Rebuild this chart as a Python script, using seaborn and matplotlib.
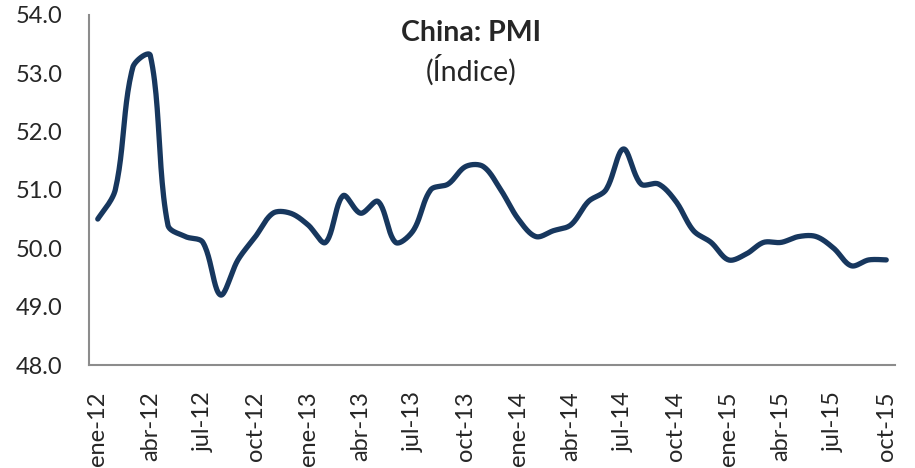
import numpy as np
import pandas as pd
import matplotlib
matplotlib.use("Agg")
import matplotlib.pyplot as plt
import seaborn as sns

months_es = ["ene", "feb", "mar", "abr", "may", "jun",
             "jul", "ago", "sep", "oct", "nov", "dic"]
years = ["12", "13", "14", "15"]

pmi_2012 = [50.5, 51.0, 53.1, 53.3, 50.4, 50.2, 50.1, 49.2, 49.8, 50.2, 50.6, 50.6]
pmi_2013 = [50.4, 50.1, 50.9, 50.6, 50.8, 50.1, 50.3, 51.0, 51.1, 51.4, 51.4, 51.0]
pmi_2014 = [50.5, 50.2, 50.3, 50.4, 50.8, 51.0, 51.7, 51.1, 51.1, 50.8, 50.3, 50.1]
pmi_2015 = [49.8, 49.9, 50.1, 50.1, 50.2, 50.2, 50.0, 49.7, 49.8, 49.8]

pmi = pmi_2012 + pmi_2013 + pmi_2014 + pmi_2015
labels = [f"{m}-{y}" for y in years for m in months_es][:len(pmi)]

df = pd.DataFrame({"idx": np.arange(len(pmi)), "pmi": pmi, "mes": labels})

# pixel scale of the plot area, used to shape the smoothed line like Excel
PX_X = 17.53
PX_Y = 58.4


def smooth(x, y, n=24):
    # Excel-style smoothed line: Bezier segments, handles scaled by segment length
    sx, sy = x * PX_X, y * PX_Y
    m = len(x)
    d = np.hypot(np.diff(sx), np.diff(sy))
    tx = np.zeros(m)
    ty = np.zeros(m)
    for i in range(m):
        a = max(i - 1, 0)
        b = min(i + 1, m - 1)
        tx[i] = sx[b] - sx[a]
        ty[i] = sy[b] - sy[a]
    t = np.linspace(0, 1, n, endpoint=False)[:, None]
    pts = []
    for i in range(m - 1):
        d_prev = d[i - 1] if i > 0 else d[i]
        d_next = d[i + 1] if i < m - 2 else d[i]
        p0 = np.array([sx[i], sy[i]])
        p3 = np.array([sx[i + 1], sy[i + 1]])
        p1 = p0 + np.array([tx[i], ty[i]]) * d[i] / (d_prev + d[i]) / 3
        p2 = p3 - np.array([tx[i + 1], ty[i + 1]]) * d[i] / (d[i] + d_next) / 3
        seg = ((1 - t) ** 3 * p0 + 3 * (1 - t) ** 2 * t * p1
               + 3 * (1 - t) * t ** 2 * p2 + t ** 3 * p3)
        pts.append(seg)
    pts.append(np.array([[sx[-1], sy[-1]]]))
    pts = np.vstack(pts)
    return pd.DataFrame({"x": pts[:, 0] / PX_X, "y": pts[:, 1] / PX_Y})


curve = smooth(df["idx"].to_numpy(float), df["pmi"].to_numpy(float))

sns.set_style("white")
plt.rcParams["font.family"] = ["Lato", "DejaVu Sans"]

fig = plt.figure(figsize=(9.15, 4.68), dpi=100)
ax = fig.add_axes([89 / 915, 1 - 365 / 468, (895 - 89) / 915, (365 - 14.7) / 468])

sns.lineplot(data=curve, x="x", y="y", sort=False, color="#17375E",
             linewidth=3.8, ax=ax, solid_capstyle="round")

ax.set_xlim(-0.5, len(pmi) - 0.5)
ax.set_ylim(48, 54)
ax.set_yticks(np.arange(48, 54.1, 1))
ax.set_yticklabels([f"{v:.1f}" for v in np.arange(48, 54.1, 1)])

ax.set_xticks(df["idx"][::3])
ax.set_xticklabels(df["mes"][::3], rotation=90)
ax.set_xticks(np.arange(-0.5, len(pmi), 3), minor=True)
ax.tick_params(axis="x", which="major", length=0, pad=19, labelsize=17)
ax.tick_params(axis="x", which="minor", length=6, width=1.2, color="#8c8c8c",
               direction="out")
ax.tick_params(axis="y", length=6, width=1.2, color="#8c8c8c", direction="out",
               pad=13, labelsize=17)

for side in ["top", "right"]:
    ax.spines[side].set_visible(False)
for side in ["left", "bottom"]:
    ax.spines[side].set_color("#8c8c8c")
    ax.spines[side].set_linewidth(1.5)

ax.set_xlabel("")
ax.set_ylabel("")

fig.text(471 / 915, 1 - 33 / 468, "China: PMI", ha="center", va="center",
         fontsize=20.5, fontweight="bold")
fig.text(471 / 915, 1 - 70 / 468, "(Índice)", ha="center", va="center",
         fontsize=20.5)

plt.savefig("out.png", dpi=100)
plt.close()
